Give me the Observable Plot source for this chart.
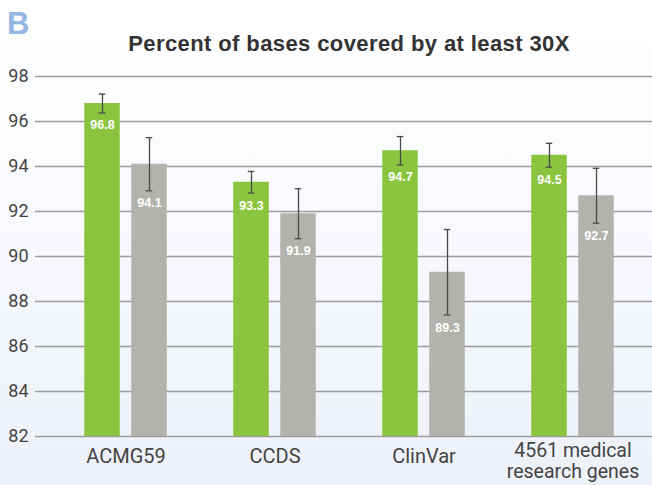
<!DOCTYPE html>
<html>
<head>
<meta charset="utf-8">
<script src="https://cdn.jsdelivr.net/npm/d3@7"></script>
<script src="https://cdn.jsdelivr.net/npm/@observablehq/plot@0.6"></script>
<style>
  html, body { margin: 0; padding: 0; }
  body {
    width: 652px; height: 485px; position: relative; overflow: hidden;
    background: linear-gradient(to bottom, #ffffff 0%, #fbfcfe 30%, #edf1f8 100%);
    font-family: Roboto, "Liberation Sans", sans-serif;
  }
  #panel {
    position: absolute; left: 7px; top: 6px;
    font: bold 31px "Liberation Sans", Arial, sans-serif; color: #93b6e2;
  }
  #title {
    position: absolute; left: 50px; width: 598px; top: 31px; text-align: center;
    font: bold 22px "Liberation Sans", Arial, sans-serif; letter-spacing: 0.4px; color: #333333;
  }
  #chart { position: absolute; left: 0; top: 0; }
</style>
</head>
<body>
<div id="panel">B</div>
<div id="title">Percent of bases covered by at least 30X</div>
<div id="chart"></div>
<script>
// Coverage at >= 30X for each gene set, two series per set
const categories = ["ACMG59", "CCDS", "ClinVar", "4561 medical research genes"];
const categoryLabels = ["ACMG59", "CCDS", "ClinVar", "4561 medical\nresearch genes"];
const seriesNames = ["Series 1", "Series 2"];
const series1Values = [96.8, 93.3, 94.7, 94.5];
const series2Values = [94.1, 91.9, 89.3, 92.7];
const series1Errors = [0.42, 0.48, 0.63, 0.53];
const series2Errors = [1.18, 1.11, 1.9, 1.22];
const yTicks = [82, 84, 86, 88, 90, 92, 94, 96, 98];
const seriesColors = ["#8bc43f", "#b3b3ad"];

const yMin = yTicks[0];
const yMax = yTicks[yTicks.length - 1];
const labelOf = Object.fromEntries(categories.map((c, i) => [c, categoryLabels[i]]));

// bar geometry within each category band (pixels)
const barWidth = 36;
const barGap = 11;
const bandStep = 149.5;
const barInset = (bandStep - barWidth) / 2;
const capHalf = 3.5;

const seriesData = [
  categories.map((c, i) => ({category: c, value: series1Values[i], err: series1Errors[i]})),
  categories.map((c, i) => ({category: c, value: series2Values[i], err: series2Errors[i]}))
];

const seriesMarks = seriesData.flatMap((data, s) => {
  const dx = (s - 0.5) * (barWidth + barGap);
  const lo = d => d.value - d.err;
  const hi = d => d.value + d.err;
  const errStyle = {stroke: "#4a4a4a", strokeWidth: 1.3};
  return [
    Plot.barY(data, {x: "category", y1: () => yMin, y2: "value", fill: seriesColors[s], insetLeft: barInset, insetRight: barInset, dx}),
    Plot.ruleX(data, {x: "category", y1: lo, y2: hi, dx, ...errStyle}),
    Plot.tickY(data, {x: "category", y: hi, dx, insetLeft: bandStep / 2 - capHalf, insetRight: bandStep / 2 - capHalf, ...errStyle}),
    Plot.tickY(data, {x: "category", y: lo, dx, insetLeft: bandStep / 2 - capHalf, insetRight: bandStep / 2 - capHalf, ...errStyle}),
    Plot.text(data, {
      x: "category", y: lo, dx, dy: 12.5, lineAnchor: "middle",
      text: d => d.value.toFixed(1),
      fill: "white", fontWeight: "bold", fontSize: 12.5, fontFamily: "Liberation Sans, Arial, sans-serif"
    })
  ];
});

const chart = Plot.plot({
  width: 652,
  height: 485,
  marginTop: 76,
  marginBottom: 49,
  marginLeft: 50,
  marginRight: 4,
  style: {background: "transparent", color: "#444", fontFamily: "Roboto, sans-serif"},
  x: {domain: categories, padding: 0, axis: null},
  y: {domain: [yMin, yMax], axis: null},
  marks: [
    // gridlines run a little past the frame on both sides
    Plot.ruleY(yTicks, {stroke: "#9c9c9c", strokeWidth: 1.3, insetLeft: -15, insetRight: -4}),
    Plot.axisY({ticks: yTicks, tickSize: 0, tickPadding: 22, fontSize: 18, label: null, tickFormat: d => String(d)}),
    ...seriesMarks,
    Plot.text(categories.filter(d => !labelOf[d].includes("\n")), {
      x: d => d, text: d => labelOf[d], frameAnchor: "bottom", lineAnchor: "top",
      dy: 12, fontSize: 20, fill: "#444"
    }),
    Plot.text(categories.filter(d => labelOf[d].includes("\n")), {
      x: d => d, text: d => labelOf[d], frameAnchor: "bottom", lineAnchor: "top",
      dy: 5, fontSize: 19.5, lineHeight: 1.1, fill: "#444"
    })
  ]
});
document.getElementById("chart").appendChild(chart);
</script>
</body>
</html>
